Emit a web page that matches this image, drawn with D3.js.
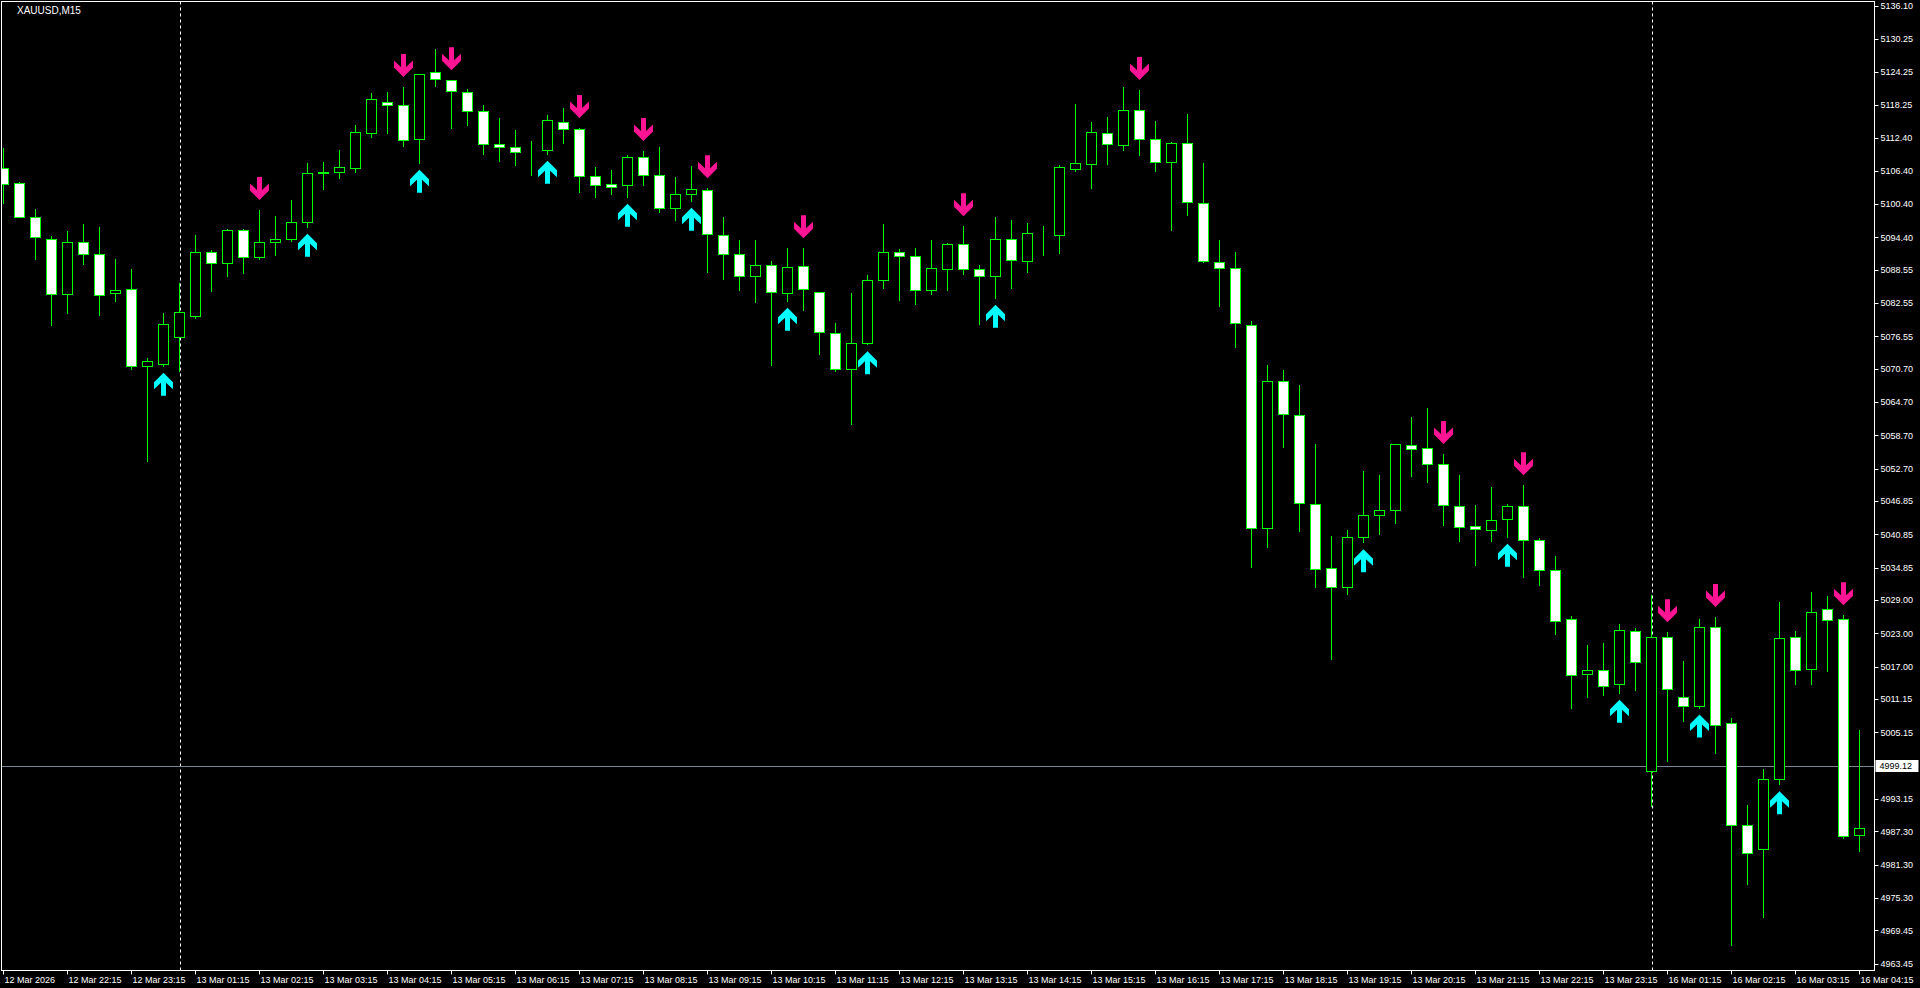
<!DOCTYPE html>
<html>
<head>
<meta charset="utf-8">
<script src="https://cdn.jsdelivr.net/npm/d3@7"></script>
<style>
  html, body { margin: 0; padding: 0; background: #000; overflow: hidden; }
  svg { display: block; }
  text { font-family: "Liberation Sans", Arial, sans-serif; }
</style>
</head>
<body>
<svg id="chart" width="1920" height="988"></svg>
<script>
// ---------------- DATA ----------------
const symbolTitle = "XAUUSD,M15";

const open = [
5106.91, 5104.15, 5098.13, 5094.06, 5084.14, 5093.52, 5091.35, 5084.32, 5085.04, 5071.16,
5071.63, 5076.39, 5080.29, 5091.72, 5089.73, 5095.68, 5090.81, 5093.52, 5094.02, 5097.12,
5106.07, 5106.14, 5106.86, 5113.28, 5118.76, 5118.22, 5112.09, 5124.17, 5122.72, 5120.56,
5117.13, 5111.19, 5110.64, 5109.85, 5110.10, 5115.15, 5113.89, 5105.42, 5103.97, 5103.79,
5108.84, 5105.60, 5099.65, 5102.17, 5102.89, 5094.78, 5091.35, 5087.39, 5089.37, 5084.32,
5089.19, 5084.50, 5077.11, 5070.75, 5075.31, 5086.67, 5091.72, 5090.99, 5084.86, 5088.76,
5093.16, 5088.65, 5087.39, 5094.06, 5090.09, 5094.53, 5094.78, 5106.68, 5107.72, 5113.19,
5111.13, 5117.30, 5112.09, 5107.92, 5111.38, 5100.57, 5089.88, 5088.85, 5078.68, 5041.97,
5068.44, 5062.31, 5046.25, 5034.71, 5031.34, 5040.35, 5044.30, 5045.20, 5056.92, 5056.38,
5053.50, 5045.92, 5042.32, 5041.60, 5043.58, 5045.92, 5039.79, 5034.39, 5025.55, 5015.64,
5016.36, 5013.83, 5023.39, 4998.15, 5022.31, 5011.49, 5009.87, 5024.11, 5006.80, 4988.41,
4984.09, 4996.71, 5022.31, 5016.54, 5027.35, 5025.55, 4986.61
];
const high = [
5110.52, 5104.30, 5099.52, 5094.60, 5095.56, 5096.82, 5096.28, 5090.51, 5088.70, 5072.66,
5080.77, 5086.18, 5094.83, 5092.13, 5095.92, 5095.92, 5099.34, 5098.26, 5101.14, 5107.76,
5107.99, 5110.16, 5114.66, 5120.43, 5120.61, 5121.52, 5123.81, 5128.31, 5122.72, 5121.16,
5118.27, 5115.93, 5113.76, 5111.78, 5116.47, 5117.73, 5114.12, 5107.09, 5106.55, 5109.26,
5109.98, 5110.70, 5105.29, 5107.27, 5103.25, 5098.03, 5093.88, 5093.88, 5090.15, 5092.44,
5092.44, 5084.50, 5078.92, 5084.32, 5087.57, 5096.76, 5092.26, 5092.44, 5093.88, 5093.34,
5096.40, 5089.37, 5098.03, 5097.48, 5096.94, 5096.40, 5107.40, 5118.45, 5115.17, 5116.09,
5121.50, 5120.97, 5115.39, 5111.56, 5116.65, 5107.83, 5093.93, 5091.75, 5079.26, 5071.40,
5070.50, 5067.79, 5057.16, 5040.57, 5041.61, 5052.29, 5051.57, 5057.10, 5062.02, 5063.65,
5055.35, 5051.57, 5046.16, 5049.40, 5046.28, 5049.71, 5040.15, 5036.91, 5026.15, 5020.92,
5021.28, 5024.71, 5023.93, 5029.99, 5023.21, 5017.98, 5025.55, 5025.97, 5007.71, 4992.02,
4998.51, 5028.67, 5023.44, 5030.47, 5029.75, 5026.27, 5005.54
];
const low = [
5100.60, 5098.00, 5090.56, 5078.66, 5080.83, 5089.66, 5080.47, 5082.99, 5070.62, 5054.15,
5071.27, 5070.37, 5079.93, 5084.79, 5087.50, 5088.04, 5090.56, 5091.28, 5093.81, 5096.33,
5103.18, 5105.16, 5106.25, 5112.56, 5113.28, 5110.93, 5107.87, 5121.75, 5114.18, 5114.72,
5109.49, 5108.23, 5107.51, 5105.71, 5109.49, 5111.47, 5102.64, 5101.74, 5102.28, 5101.74,
5103.90, 5099.03, 5097.59, 5101.02, 5088.22, 5086.96, 5084.97, 5082.81, 5071.45, 5082.99,
5081.37, 5073.38, 5070.32, 5060.82, 5075.13, 5085.22, 5083.12, 5082.39, 5084.25, 5084.97,
5087.86, 5078.84, 5083.53, 5085.33, 5088.22, 5091.28, 5091.64, 5106.43, 5103.38, 5107.71,
5110.23, 5109.33, 5106.43, 5095.81, 5098.51, 5090.00, 5081.96, 5074.55, 5034.96, 5038.50,
5056.52, 5041.52, 5031.30, 5018.45, 5030.02, 5039.42, 5040.84, 5042.97, 5051.44, 5050.36,
5042.61, 5039.72, 5035.40, 5039.72, 5040.44, 5033.23, 5031.68, 5022.96, 5009.47, 5011.60,
5011.96, 5012.32, 5012.86, 4991.95, 5000.06, 5007.27, 5009.62, 5001.50, 4966.89, 4977.89,
4971.94, 4995.81, 5013.94, 5013.94, 5016.29, 4986.18, 4983.83
];
const close = [
5104.03, 5098.13, 5094.42, 5084.14, 5093.52, 5091.35, 5083.96, 5084.86, 5071.16, 5072.07,
5078.74, 5080.90, 5091.72, 5089.73, 5095.68, 5090.81, 5093.52, 5094.06, 5097.12, 5105.96,
5106.10, 5107.04, 5113.35, 5119.30, 5118.22, 5111.91, 5123.81, 5122.90, 5120.74, 5117.13,
5111.19, 5110.64, 5109.74, 5109.85, 5115.51, 5113.89, 5105.42, 5103.90, 5103.43, 5108.84,
5105.60, 5099.65, 5102.17, 5103.07, 5094.96, 5091.35, 5087.39, 5089.37, 5084.50, 5089.01,
5085.04, 5077.29, 5070.75, 5075.31, 5086.67, 5091.72, 5090.99, 5084.86, 5088.83, 5093.16,
5088.65, 5087.39, 5094.06, 5090.27, 5095.14, 5094.53, 5107.04, 5107.76, 5113.37, 5111.15,
5117.30, 5112.05, 5107.96, 5111.38, 5100.71, 5090.07, 5088.85, 5078.93, 5041.97, 5068.44,
5062.51, 5046.48, 5034.57, 5031.34, 5040.32, 5044.30, 5045.20, 5057.10, 5056.20, 5053.50,
5046.10, 5042.14, 5041.78, 5043.40, 5045.92, 5039.79, 5034.39, 5025.19, 5015.46, 5016.36,
5013.47, 5023.57, 5017.80, 5022.31, 5012.93, 5009.87, 5024.11, 5006.45, 4988.41, 4983.36,
4996.71, 5022.13, 5016.36, 5026.82, 5025.37, 4986.43, 4987.87
];

// indicator signals (candle indices)
const upSignals   = [10, 19, 26, 34, 39, 43, 49, 54, 62, 85, 94, 101, 106, 111];
const downSignals = [16, 25, 28, 36, 40, 44, 50, 60, 71, 90, 95, 104, 107, 115];

// day separators (candle indices)
const daySeparators = [11, 103];

// time axis labels, one every 4 candles starting at candle 0
const timeLabels = [
"12 Mar 2026", "12 Mar 22:15", "12 Mar 23:15",
"13 Mar 01:15", "13 Mar 02:15", "13 Mar 03:15", "13 Mar 04:15", "13 Mar 05:15",
"13 Mar 06:15", "13 Mar 07:15", "13 Mar 08:15", "13 Mar 09:15", "13 Mar 10:15",
"13 Mar 11:15", "13 Mar 12:15", "13 Mar 13:15", "13 Mar 14:15", "13 Mar 15:15",
"13 Mar 16:15", "13 Mar 17:15", "13 Mar 18:15", "13 Mar 19:15", "13 Mar 20:15",
"13 Mar 21:15", "13 Mar 22:15", "13 Mar 23:15",
"16 Mar 01:15", "16 Mar 02:15", "16 Mar 03:15", "16 Mar 04:15"
];
const timeLabelStep = 4;

// price axis labels
const priceTicks = [
5136.10, 5130.25, 5124.25, 5118.25, 5112.40, 5106.40, 5100.40, 5094.40, 5088.55,
5082.55, 5076.55, 5070.70, 5064.70, 5058.70, 5052.70, 5046.85, 5040.85, 5034.85,
5029.00, 5023.00, 5017.00, 5011.15, 5005.15, 4993.15, 4987.30, 4981.30, 4975.30,
4969.45, 4963.45
];
const bidPrice = 4999.12;

// ---------------- DRAW ----------------
const svg = d3.select("#chart");
const W = 1920, H = 988;
const plotL = 1.5, plotT = 1.5, plotR = 1874.5, plotB = 970.5;

svg.append("rect").attr("width", W).attr("height", H).attr("fill", "#000");

const n = open.length;
const x = d3.scaleLinear().domain([0, n - 1]).range([3.5, 3.5 + 16 * (n - 1)]);
const y = d3.scaleLinear().domain([4963.45, 5136.10]).range([963.7, 6.1]);

const plot = svg.append("g");
const clip = svg.append("clipPath").attr("id", "plotclip")
  .append("rect").attr("x", plotL + 0.5).attr("y", plotT + 0.5)
  .attr("width", plotR - plotL - 1).attr("height", plotB - plotT - 1);
plot.attr("clip-path", "url(#plotclip)");

// day separators
plot.selectAll("line.sep").data(daySeparators).enter().append("line")
  .attr("x1", d => Math.round(x(d)) + 0.5).attr("x2", d => Math.round(x(d)) + 0.5)
  .attr("y1", plotT).attr("y2", plotB)
  .attr("stroke", "#fff").attr("stroke-width", 1).attr("stroke-dasharray", "3,3");

// bid line
plot.append("line")
  .attr("x1", plotL).attr("x2", plotR)
  .attr("y1", Math.round(y(bidPrice)) + 0.5).attr("y2", Math.round(y(bidPrice)) + 0.5)
  .attr("stroke", "#778899").attr("stroke-width", 1);

const idx = d3.range(n);
const green = "#00ff00";

// wicks
plot.selectAll("line.wick").data(idx).enter().append("line")
  .attr("x1", i => x(i)).attr("x2", i => x(i))
  .attr("y1", i => Math.round(y(high[i]))).attr("y2", i => Math.round(y(low[i])) + 1)
  .attr("stroke", green).attr("stroke-width", 1);

// bodies
plot.selectAll("rect.body").data(idx).enter().append("rect")
  .attr("x", i => x(i) - 5)
  .attr("width", 10)
  .attr("y", i => Math.round(y(Math.max(open[i], close[i]))) + 0.5)
  .attr("height", i => Math.max(0, Math.round(y(Math.min(open[i], close[i]))) - Math.round(y(Math.max(open[i], close[i])))))
  .attr("fill", i => close[i] < open[i] ? "#ffffff" : "#000000")
  .attr("stroke", green).attr("stroke-width", 1);

// arrows
const downPath = "M-2.5,0 L2.5,0 L2.5,13 L9.5,6.5 L9.5,13.5 L0,23 L-9.5,13.5 L-9.5,6.5 L-2.5,13 Z";
const upPath   = "M0,0 L9.5,9.5 L9.5,16.5 L2.5,10 L2.5,23 L-2.5,23 L-2.5,10 L-9.5,16.5 L-9.5,9.5 Z";

plot.selectAll("path.down").data(downSignals).enter().append("path")
  .attr("d", downPath)
  .attr("transform", i => `translate(${x(i)},${y(high[i]) - 10 - 23})`)
  .attr("fill", "#ff1493");

plot.selectAll("path.up").data(upSignals).enter().append("path")
  .attr("d", upPath)
  .attr("transform", i => `translate(${x(i)},${y(low[i]) + 7})`)
  .attr("fill", "#00ffff");

// frame
svg.append("rect").attr("x", plotL).attr("y", plotT)
  .attr("width", plotR - plotL).attr("height", plotB - plotT)
  .attr("fill", "none").attr("stroke", "#fff").attr("stroke-width", 1);

// title
svg.append("text").attr("x", 17).attr("y", 14)
  .attr("fill", "#fff").attr("font-size", 10).text(symbolTitle);

// price axis
const pAxis = svg.append("g");
pAxis.selectAll("line").data(priceTicks).enter().append("line")
  .attr("x1", plotR).attr("x2", plotR + 4)
  .attr("y1", d => Math.round(y(d)) + 0.5).attr("y2", d => Math.round(y(d)) + 0.5)
  .attr("stroke", "#fff");
pAxis.selectAll("text").data(priceTicks).enter().append("text")
  .attr("x", plotR + 6).attr("y", d => y(d))
  .attr("dy", "0.35em").attr("fill", "#fff").attr("font-size", 9)
  .text(d => d.toFixed(2));

// bid label
const by = y(bidPrice);
svg.append("rect").attr("x", plotR + 1).attr("y", Math.round(by) - 6)
  .attr("width", 43).attr("height", 12).attr("fill", "#fff");
svg.append("text").attr("x", plotR + 5).attr("y", by).attr("dy", "0.35em")
  .attr("fill", "#000").attr("font-size", 9).text(bidPrice.toFixed(2));

// time axis
const tAxis = svg.append("g");
const tIdx = timeLabels.map((t, k) => k * timeLabelStep);
tAxis.selectAll("line").data(tIdx).enter().append("line")
  .attr("x1", i => x(i)).attr("x2", i => x(i))
  .attr("y1", plotB).attr("y2", plotB + 4)
  .attr("stroke", "#fff");
tAxis.selectAll("text").data(timeLabels).enter().append("text")
  .attr("x", (t, k) => x(k * timeLabelStep) + 1)
  .attr("y", 983)
  .attr("fill", "#fff").attr("font-size", 9)
  .text(t => t);
</script>
</body>
</html>
